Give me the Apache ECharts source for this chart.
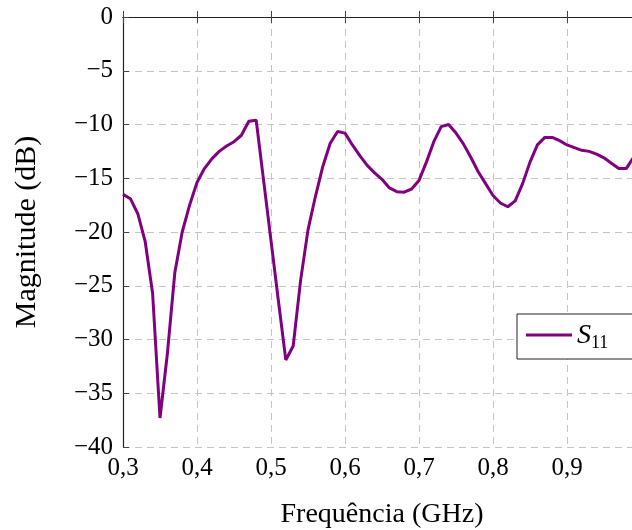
<!DOCTYPE html>
<html>
<head>
<meta charset="utf-8">
<script src="https://cdn.jsdelivr.net/npm/echarts@6/dist/echarts.min.js"></script>
<style>html,body{margin:0;padding:0;background:#fff;}#c{width:632px;height:530px;}</style>
</head>
<body>
<div id="c"></div>
<script>
const freqGHz = [0.30,0.31,0.32,0.33,0.34,0.35,0.36,0.37,0.38,0.39,
  0.40,0.41,0.42,0.43,0.44,0.45,0.46,0.47,0.48,0.49,
  0.50,0.51,0.52,0.53,0.54,0.55,0.56,0.57,0.58,0.59,
  0.60,0.61,0.62,0.63,0.64,0.65,0.66,0.67,0.68,0.69,
  0.70,0.71,0.72,0.73,0.74,0.75,0.76,0.77,0.78,0.79,
  0.80,0.81,0.82,0.83,0.84,0.85,0.86,0.87,0.88,0.89,
  0.90,0.91,0.92,0.93,0.94,0.95,0.96,0.97,0.98,0.99];
const s11dB = [-16.5,-16.9,-18.3,-20.9,-25.7,-37.3,-31.3,-23.8,-20.0,-17.5,
  -15.4,-14.1,-13.2,-12.5,-12.0,-11.6,-11.0,-9.7,-9.6,-15.2,
  -20.8,-26.4,-31.9,-30.6,-24.5,-19.8,-16.7,-13.9,-11.75,-10.65,
  -10.8,-11.9,-12.9,-13.8,-14.5,-15.1,-15.9,-16.25,-16.3,-16.0,
  -15.2,-13.5,-11.6,-10.2,-10.0,-10.8,-11.8,-13.05,-14.4,-15.5,
  -16.6,-17.3,-17.65,-17.1,-15.5,-13.5,-11.9,-11.2,-11.2,-11.5,
  -11.9,-12.15,-12.4,-12.5,-12.75,-13.1,-13.6,-14.1,-14.1,-13.05];
const xTicks = {min:0.3, max:1.0, step:0.1};
const xLabelMax = 0.9;
const yTicks = {min:-40, max:0, step:5};
const seriesName = 'S11';
const xTitle = 'Frequência (GHz)';
const yTitle = 'Magnitude (dB)';

const FONT = 'Liberation Serif';
const chart = echarts.init(document.getElementById('c'), null, {renderer:'canvas'});
const gridDash = {color:'#c4c4c4', width:1, type:[7,5]};
const tickStyle = {show:true, inside:true, length:6, lineStyle:{color:'#444', width:1}};
chart.setOption({
  animation:false,
  backgroundColor:'#fff',
  grid:{left:123, top:17, width:518, height:430, containLabel:false, outerBoundsMode:'none'},
  legend:{
    show:true, left:517, top:314,
    padding:[8,30,7,9],
    borderColor:'#222', borderWidth:1, backgroundColor:'#fff',
    icon:'rect', itemWidth:46, itemHeight:3, itemGap:5,
    itemStyle:{color:'#800080'},
    data:[{name:seriesName}],
    formatter:function(){return '{s|S}{n|11}';},
    textStyle:{
      rich:{
        s:{fontFamily:FONT, fontStyle:'italic', fontSize:28, color:'#000', verticalAlign:'bottom', lineHeight:30},
        n:{fontFamily:FONT, fontSize:18, color:'#000', verticalAlign:'bottom', padding:[0,0,-2,0], lineHeight:30}
      }
    }
  },
  xAxis:[{
    type:'value', min:xTicks.min, max:xTicks.max, interval:xTicks.step, position:'bottom',
    name:xTitle, nameLocation:'middle', nameGap:54,
    nameTextStyle:{fontFamily:FONT, fontSize:28, color:'#000'},
    axisLine:{show:true, lineStyle:{color:'#222', width:1.2}},
    axisTick:tickStyle,
    axisLabel:{fontFamily:FONT, fontSize:25, color:'#000', margin:9,
      formatter:function(v){return v > xLabelMax + 1e-6 ? '' : v.toFixed(1).replace('.',',');}},
    splitLine:{show:true, lineStyle:gridDash}
  },{
    type:'value', min:xTicks.min, max:xTicks.max, interval:xTicks.step, position:'top',
    axisLine:{show:true, lineStyle:{color:'#222', width:1.2}},
    axisTick:tickStyle, axisLabel:{show:false}, splitLine:{show:false}
  }],
  yAxis:[{
    type:'value', min:yTicks.min, max:yTicks.max, interval:yTicks.step,
    name:yTitle, nameLocation:'middle', nameGap:81, nameRotate:90,
    nameTextStyle:{fontFamily:FONT, fontSize:30, color:'#000'},
    axisLine:{show:true, lineStyle:{color:'#222', width:1.2}},
    axisTick:tickStyle,
    axisLabel:{fontFamily:FONT, fontSize:25, color:'#000', margin:10,
      formatter:function(v){return v<0 ? '\u2212'+Math.abs(v) : String(v);}},
    splitLine:{show:true, lineStyle:gridDash}
  }],
  series:[{
    name:seriesName, type:'line', xAxisIndex:0, yAxisIndex:0,
    data:freqGHz.map((f,i)=>[f, s11dB[i]]),
    symbol:'none', smooth:false,
    lineStyle:{color:'#800080', width:3},
    itemStyle:{color:'#800080'}
  }]
});
</script>
</body>
</html>
